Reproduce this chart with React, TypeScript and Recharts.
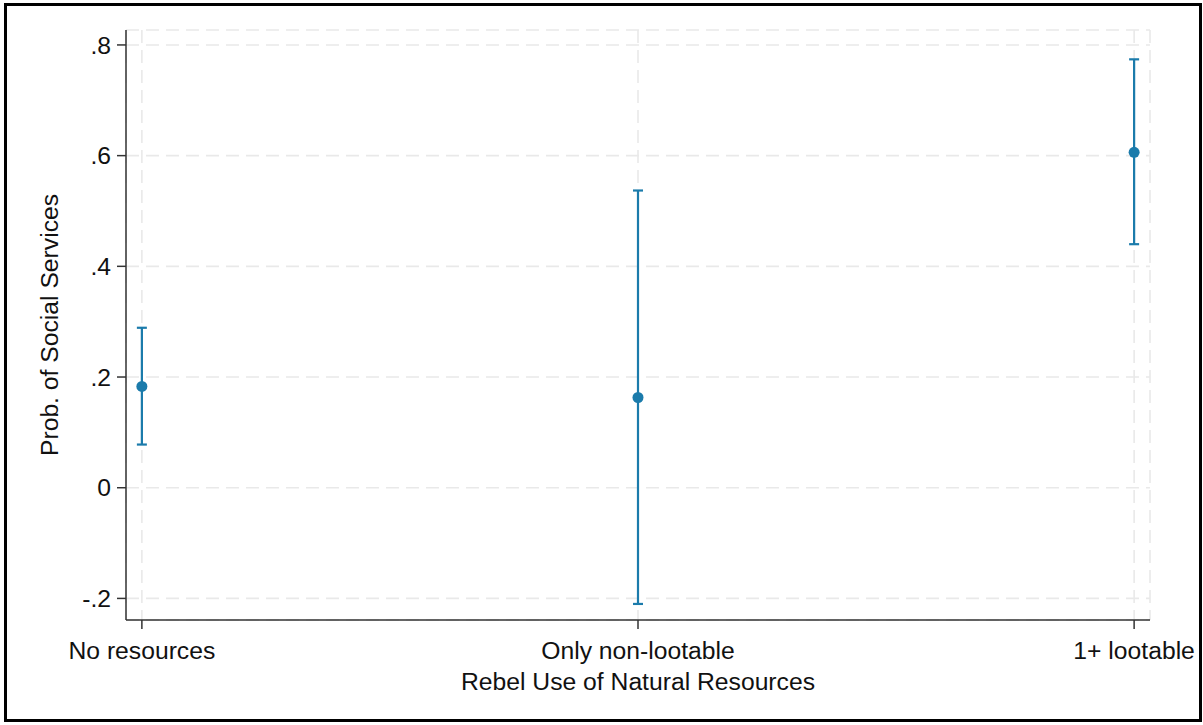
import React from "react";
import {
  ComposedChart,
  Scatter,
  ErrorBar,
  XAxis,
  YAxis,
  CartesianGrid,
  Label,
} from "recharts";

const categories = ["No resources", "Only non-lootable", "1+ lootable"];
const estimates = [0.183, 0.163, 0.606];
const lower = [0.078, -0.21, 0.44];
const upper = [0.289, 0.537, 0.774];
const yTicks = [-0.2, 0, 0.2, 0.4, 0.6, 0.8];

const BLUE = "#1b7bab";
const FONT = "'Liberation Sans', Arial, sans-serif";
const FS = 24.7;

const points = categories.map((name, i) => ({
  x: i + 1,
  name,
  y: estimates[i],
  ci: [estimates[i] - lower[i], upper[i] - estimates[i]],
}));

// stata style: ".8", "0", "-.2"
const fmtY = (v: number) => {
  if (Math.abs(v) < 1e-9) return "0";
  const s = String(Math.round(v * 10) / 10);
  return s.replace("0.", ".");
};

const fmtX = (v: number) => categories[Math.round(v) - 1] ?? "";

const App = () => {
  return (
    <div
      style={{
        position: "absolute",
        left: 0,
        top: 0,
        width: 1203,
        height: 725,
        background: "#fff",
        fontFamily: FONT,
      }}
    >
      <div
        style={{
          position: "absolute",
          left: 4,
          top: 3,
          width: 1198,
          height: 719,
          border: "3px solid #000",
          boxSizing: "border-box",
        }}
      />
      <div style={{ position: "absolute", left: 0, top: 0 }}>
        <ComposedChart
          width={1203}
          height={725}
          data={points}
          margin={{ top: 30, right: 53, left: 0, bottom: 0 }}
        >
          <CartesianGrid
            stroke="#e9e9e9"
            strokeWidth={1.6}
            strokeDasharray="13 7"
          />
          <XAxis
            type="number"
            dataKey="x"
            domain={[0.968, 3.032]}
            ticks={[1, 2, 3]}
            allowDataOverflow
            tickFormatter={fmtX}
            height={105}
            tickSize={9}
            tickMargin={12}
            stroke="#333"
            strokeWidth={1.5}
            tick={{ fill: "#111", fontSize: FS, fontFamily: FONT }}
            interval={0}
          >
            <Label
              content={(props: any) => {
                const vb = props.viewBox || {};
                return (
                  <text
                    x={vb.x + vb.width / 2}
                    y={vb.y + 70}
                    textAnchor="middle"
                    fontSize={FS}
                    fontFamily={FONT}
                    fill="#111"
                  >
                    Rebel Use of Natural Resources
                  </text>
                );
              }}
            />
          </XAxis>
          <YAxis
            type="number"
            domain={[-0.239, 0.827]}
            ticks={yTicks}
            allowDataOverflow
            tickFormatter={fmtY}
            width={126}
            tickSize={9}
            tickMargin={6}
            stroke="#333"
            strokeWidth={1.5}
            tick={{ fill: "#111", fontSize: FS, fontFamily: FONT }}
            interval={0}
          >
            <Label
              content={(props: any) => {
                const vb = props.viewBox || {};
                const cy = vb.y + vb.height / 2;
                return (
                  <text
                    x={58}
                    y={cy}
                    transform={`rotate(-90 58 ${cy})`}
                    textAnchor="middle"
                    fontSize={FS}
                    fontFamily={FONT}
                    fill="#111"
                  >
                    Prob. of Social Services
                  </text>
                );
              }}
            />
          </YAxis>
          <Scatter
            dataKey="y"
            fill={BLUE}
            isAnimationActive={false}
            shape={(p: any) => (
              <circle cx={p.cx} cy={p.cy} r={5.5} fill={BLUE} />
            )}
          >
            <ErrorBar
              dataKey="ci"
              direction="y"
              width={5}
              stroke={BLUE}
              strokeWidth={2.2}
              isAnimationActive={false}
            />
          </Scatter>
        </ComposedChart>
      </div>
    </div>
  );
};

export default App;
